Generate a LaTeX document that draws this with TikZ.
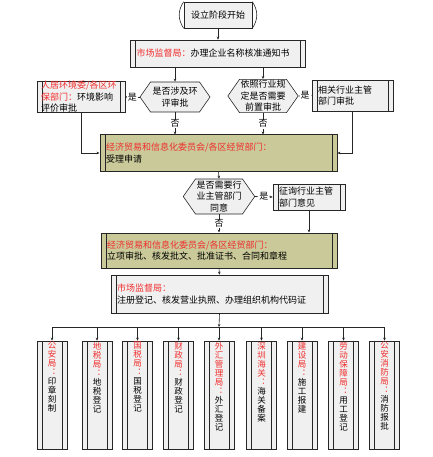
\documentclass[tikz,border=0pt]{standalone}
\usepackage{fontspec}
\setmainfont{Noto Sans CJK SC}
\usetikzlibrary{shapes.symbols, arrows.meta}
\definecolor{boxgrey}{RGB}{240,240,240}
\definecolor{boxkhaki}{RGB}{201,201,153}
\definecolor{labelred}{RGB}{240,45,45}

\begin{document}
\begin{tikzpicture}[x=1pt, y=-1pt,
    every node/.style={font=\fontsize{9}{11.5}\selectfont},
    line/.style={draw=black!85, line width=0.6pt},
    arr/.style={line, -{Stealth[length=3pt,width=2.6pt]}},
    proc/.style={line, fill=boxgrey, rectangle, inner xsep=6pt, inner ysep=0pt, align=left,
        path picture={\draw[black!85, line width=0.6pt]
            ([xshift=5pt]path picture bounding box.north west) -- ([xshift=5pt]path picture bounding box.south west)
            ([xshift=-5pt]path picture bounding box.north east) -- ([xshift=-5pt]path picture bounding box.south east);}},
    khaki/.style={proc, fill=boxkhaki, line width=1pt},
    decide/.style={line, fill=boxgrey, signal, signal to=east and west, signal pointer angle=110,
        inner sep=1pt, align=center},
    vproc/.style={proc, minimum width=30pt, minimum height=108pt, inner sep=0pt},
    yes/.style={fill=white, inner sep=1pt}]
    \useasboundingbox (0,0) rectangle (432,457);
    % start
    \node[line, fill=boxgrey, minimum width=68pt, minimum height=26pt] (start) at (218,15) {设立阶段开始};
    \draw[line] (start.north west) to[bend right=35] (start.south west);
    \draw[line] (start.north east) to[bend left=35] (start.south east);
    % name approval
    \node[proc, text width=163pt, minimum height=27pt] (name) at (218,53.5)
        {\textcolor{labelred}{市场监督局：}办理企业名称核准通知书};
    % pre-approvals
    \node[proc, inner xsep=4pt, text width=80pt, minimum height=30pt] (envbox) at (81,97)
        {\textcolor{labelred}{人居环境委/各区环}\\\textcolor{labelred}{保部门：}环境影响\\评价审批};
    \node[decide, minimum width=70pt, minimum height=30pt] (envq) at (175,97) {是否涉及环\\评审批};
    \node[decide, minimum width=70pt, minimum height=32pt] (preq) at (263,96) {依照行业规\\定是否需要\\前置审批};
    \node[proc, text width=69pt, minimum height=31pt] (indbox) at (352.5,95.5) {相关行业主管\\部门审批};
    % economic commission
    \node[khaki, text width=225pt, minimum height=36pt] (accept) at (218.5,153)
        {\textcolor{labelred}{经济贸易和信息化委员会/各区经贸部门：}\\受理申请};
    \node[decide, minimum width=71pt, minimum height=35pt] (needq) at (219,196.5) {是否需要行\\业主管部门\\同意};
    \node[proc, text width=60pt, minimum height=26pt] (consult) at (309,197) {征询行业主管\\部门意见};
    \node[khaki, text width=224pt, minimum height=35pt] (approve) at (219,250.5)
        {\textcolor{labelred}{经济贸易和信息化委员会/各区经贸部门：}\\立项审批、核发批文、批准证书、合同和章程};
    % registration
    \node[proc, text width=205pt, minimum height=38pt] (register) at (219.5,294)
        {\textcolor{labelred}{市场监督局：}\\注册登记、核发营业执照、办理组织机构代码证};
    % follow-up offices
    \foreach \i/\x/\org/\task in {
        1/52/{公\\安\\局\\︓}/{印\\章\\刻\\制},
        2/97/{地\\税\\局\\︓}/{地\\税\\登\\记},
        3/137.5/{国\\税\\局\\︓}/{国\\税\\登\\记},
        4/178.5/{财\\政\\局\\︓}/{财\\政\\登\\记},
        5/219/{外\\汇\\管\\理\\局\\︓}/{外\\汇\\登\\记},
        6/261.5/{深\\圳\\海\\关\\︓}/{海\\关\\备\\案},
        7/302/{建\\设\\局\\︓}/{施\\工\\报\\建},
        8/343.5/{劳\\动\\保\\障\\局\\︓}/{用\\工\\登\\记},
        9/384.5/{公\\安\\消\\防\\局\\︓}/{消\\防\\报\\批}}
        \node[vproc] (b\i) at (\x,395) {\parbox[c][106pt][t]{10pt}{\fontsize{8.5}{9}\selectfont
            \centering\color{labelred}\org\\\color{black}\task}};
    % connectors
    \draw[arr] (start.south) -- (name.north);
    \draw[arr] (name.south -| envq.north) -- (envq.north);
    \draw[arr] (name.south -| preq.north) -- (preq.north);
    \draw[arr] (envq.west) -- node[yes] {是} (envbox.east);
    \draw[arr] (preq.east) -- node[yes] {是} (indbox.west);
    \draw[arr] (envq.south) -- node[yes] {否} (envq.south |- accept.north);
    \draw[arr] (preq.south) -- node[yes] {否} (preq.south |- accept.north);
    \draw[arr] (envbox.south) |- (accept.west);
    \draw[arr] (indbox.south) |- (accept.east);
    \draw[arr] (accept.south) -- (needq.north);
    \draw[arr] (needq.east) -- node[yes] {是} (consult.west);
    \draw[arr] (needq.south) -- node[yes] {否} (needq.south |- approve.north);
    \draw[arr] (consult.south) -- (consult.south |- approve.north);
    \draw[arr] (approve.south) -- (register.north);
    % distribution bus
    \coordinate (bus) at (219,327);
    \draw[arr] (register.south) -- (bus);
    \draw[line] (b1.north |- bus) -- (b9.north |- bus);
    \foreach \i in {1,...,9}
        \draw[arr] (b\i.north |- bus) -- (b\i.north);
\end{tikzpicture}
\end{document}
